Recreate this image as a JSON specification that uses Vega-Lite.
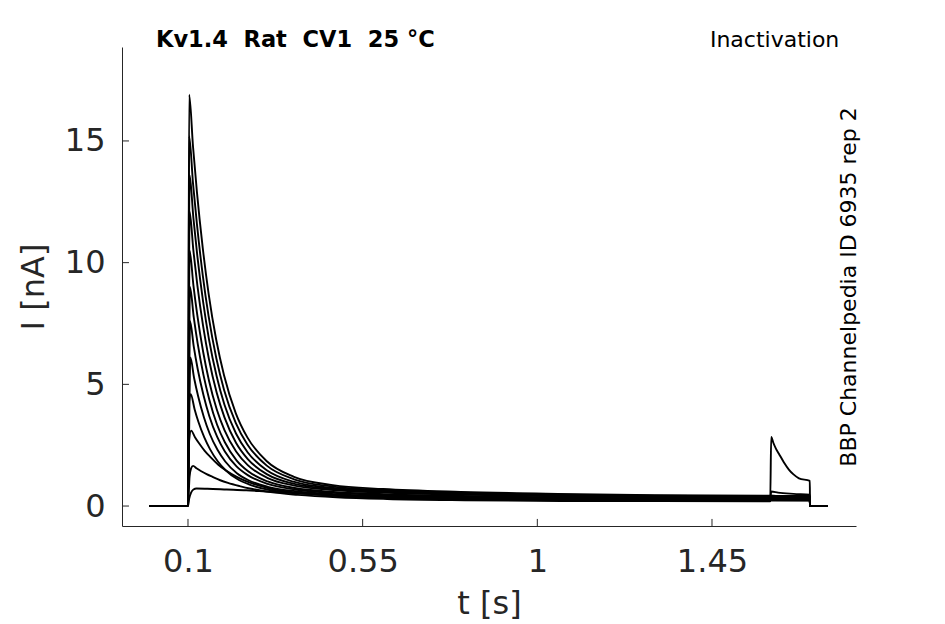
{
  "$schema": "https://vega.github.io/schema/vega-lite/v6.json",
  "autosize": {"type": "none"},
  "width": 734,
  "height": 479,
  "padding": {"left": 122, "top": 47, "right": 89, "bottom": 98},
  "background": "white",
  "config": {
    "view": {"stroke": null},
    "font": "DejaVu Sans",
    "axis": {
      "grid": false,
      "ticks": false,
      "tickSize": 0,
      "labelFont": "DejaVu Sans",
      "titleFont": "DejaVu Sans",
      "labelFontSize": 32,
      "titleFontSize": 32,
      "titleFontWeight": "normal",
      "labelColor": "#262626",
      "titleColor": "#262626",
      "domainColor": "#262626",
      "labelFlush": false,
      "labelOverlap": false
    }
  },
  "layer": [
    {
      "data": {
        "values": [
          {"k": 1, "t": 0, "I": 0}, {"k": 1, "t": 0.1, "I": 0}, {"k": 1, "t": 0.103, "I": 16.9}, {"k": 1, "t": 0.113, "I": 14.76},
          {"k": 1, "t": 0.123, "I": 12.91}, {"k": 1, "t": 0.138, "I": 10.61}, {"k": 1, "t": 0.153, "I": 8.74}, {"k": 1, "t": 0.173, "I": 6.81},
          {"k": 1, "t": 0.193, "I": 5.36}, {"k": 1, "t": 0.223, "I": 3.82}, {"k": 1, "t": 0.253, "I": 2.82}, {"k": 1, "t": 0.303, "I": 1.84},
          {"k": 1, "t": 0.373, "I": 1.2}, {"k": 1, "t": 0.473, "I": 0.86}, {"k": 1, "t": 0.603, "I": 0.7}, {"k": 1, "t": 0.803, "I": 0.58},
          {"k": 1, "t": 1.053, "I": 0.5}, {"k": 1, "t": 1.303, "I": 0.45}, {"k": 1, "t": 1.6, "I": 0.42}, {"k": 1, "t": 1.702, "I": 0.41},
          {"k": 1, "t": 1.7025, "I": 0}, {"k": 1, "t": 1.748, "I": 0},

          {"k": 2, "t": 0, "I": 0}, {"k": 2, "t": 0.1, "I": 0}, {"k": 2, "t": 0.103, "I": 15.2}, {"k": 2, "t": 0.113, "I": 13.25},
          {"k": 2, "t": 0.123, "I": 11.59}, {"k": 2, "t": 0.138, "I": 9.49}, {"k": 2, "t": 0.153, "I": 7.81}, {"k": 2, "t": 0.173, "I": 6.07},
          {"k": 2, "t": 0.193, "I": 4.77}, {"k": 2, "t": 0.223, "I": 3.42}, {"k": 2, "t": 0.253, "I": 2.53}, {"k": 2, "t": 0.303, "I": 1.66},
          {"k": 2, "t": 0.373, "I": 1.1}, {"k": 2, "t": 0.473, "I": 0.8}, {"k": 2, "t": 0.603, "I": 0.66}, {"k": 2, "t": 0.803, "I": 0.55},
          {"k": 2, "t": 1.053, "I": 0.47}, {"k": 2, "t": 1.303, "I": 0.42}, {"k": 2, "t": 1.6, "I": 0.39}, {"k": 2, "t": 1.702, "I": 0.38},
          {"k": 2, "t": 1.7025, "I": 0}, {"k": 2, "t": 1.748, "I": 0},

          {"k": 3, "t": 0, "I": 0}, {"k": 3, "t": 0.1, "I": 0}, {"k": 3, "t": 0.104, "I": 13.6}, {"k": 3, "t": 0.114, "I": 11.82},
          {"k": 3, "t": 0.124, "I": 10.29}, {"k": 3, "t": 0.139, "I": 8.39}, {"k": 3, "t": 0.154, "I": 6.86}, {"k": 3, "t": 0.174, "I": 5.32},
          {"k": 3, "t": 0.194, "I": 4.16}, {"k": 3, "t": 0.224, "I": 2.97}, {"k": 3, "t": 0.254, "I": 2.2}, {"k": 3, "t": 0.304, "I": 1.46},
          {"k": 3, "t": 0.374, "I": 0.99}, {"k": 3, "t": 0.474, "I": 0.74}, {"k": 3, "t": 0.604, "I": 0.62}, {"k": 3, "t": 0.804, "I": 0.51},
          {"k": 3, "t": 1.054, "I": 0.44}, {"k": 3, "t": 1.304, "I": 0.4}, {"k": 3, "t": 1.6, "I": 0.36}, {"k": 3, "t": 1.702, "I": 0.35},
          {"k": 3, "t": 1.7025, "I": 0}, {"k": 3, "t": 1.748, "I": 0},

          {"k": 4, "t": 0, "I": 0}, {"k": 4, "t": 0.1, "I": 0}, {"k": 4, "t": 0.104, "I": 12.1}, {"k": 4, "t": 0.114, "I": 10.48},
          {"k": 4, "t": 0.124, "I": 9.09}, {"k": 4, "t": 0.139, "I": 7.39}, {"k": 4, "t": 0.154, "I": 6.03}, {"k": 4, "t": 0.174, "I": 4.65},
          {"k": 4, "t": 0.194, "I": 3.64}, {"k": 4, "t": 0.224, "I": 2.59}, {"k": 4, "t": 0.254, "I": 1.93}, {"k": 4, "t": 0.304, "I": 1.3},
          {"k": 4, "t": 0.374, "I": 0.91}, {"k": 4, "t": 0.474, "I": 0.7}, {"k": 4, "t": 0.604, "I": 0.58}, {"k": 4, "t": 0.804, "I": 0.49},
          {"k": 4, "t": 1.054, "I": 0.42}, {"k": 4, "t": 1.304, "I": 0.38}, {"k": 4, "t": 1.6, "I": 0.34}, {"k": 4, "t": 1.702, "I": 0.33},
          {"k": 4, "t": 1.7025, "I": 0}, {"k": 4, "t": 1.748, "I": 0},

          {"k": 5, "t": 0, "I": 0}, {"k": 5, "t": 0.1, "I": 0}, {"k": 5, "t": 0.104, "I": 10.5}, {"k": 5, "t": 0.114, "I": 9.07},
          {"k": 5, "t": 0.124, "I": 7.84}, {"k": 5, "t": 0.139, "I": 6.34}, {"k": 5, "t": 0.154, "I": 5.16}, {"k": 5, "t": 0.174, "I": 3.98},
          {"k": 5, "t": 0.194, "I": 3.12}, {"k": 5, "t": 0.224, "I": 2.24}, {"k": 5, "t": 0.254, "I": 1.68}, {"k": 5, "t": 0.304, "I": 1.16},
          {"k": 5, "t": 0.374, "I": 0.84}, {"k": 5, "t": 0.474, "I": 0.66}, {"k": 5, "t": 0.604, "I": 0.55}, {"k": 5, "t": 0.804, "I": 0.47},
          {"k": 5, "t": 1.054, "I": 0.4}, {"k": 5, "t": 1.304, "I": 0.36}, {"k": 5, "t": 1.6, "I": 0.32}, {"k": 5, "t": 1.702, "I": 0.31},
          {"k": 5, "t": 1.7025, "I": 0}, {"k": 5, "t": 1.748, "I": 0},

          {"k": 6, "t": 0, "I": 0}, {"k": 6, "t": 0.1, "I": 0}, {"k": 6, "t": 0.105, "I": 9.0}, {"k": 6, "t": 0.115, "I": 7.74},
          {"k": 6, "t": 0.125, "I": 6.67}, {"k": 6, "t": 0.14, "I": 5.38}, {"k": 6, "t": 0.155, "I": 4.37}, {"k": 6, "t": 0.175, "I": 3.34},
          {"k": 6, "t": 0.195, "I": 2.62}, {"k": 6, "t": 0.225, "I": 1.88}, {"k": 6, "t": 0.255, "I": 1.43}, {"k": 6, "t": 0.305, "I": 1.01},
          {"k": 6, "t": 0.375, "I": 0.74}, {"k": 6, "t": 0.475, "I": 0.58}, {"k": 6, "t": 0.605, "I": 0.49}, {"k": 6, "t": 0.805, "I": 0.41},
          {"k": 6, "t": 1.055, "I": 0.35}, {"k": 6, "t": 1.305, "I": 0.32}, {"k": 6, "t": 1.6, "I": 0.29}, {"k": 6, "t": 1.702, "I": 0.28},
          {"k": 6, "t": 1.7025, "I": 0}, {"k": 6, "t": 1.748, "I": 0},

          {"k": 7, "t": 0, "I": 0}, {"k": 7, "t": 0.1, "I": 0}, {"k": 7, "t": 0.105, "I": 7.6}, {"k": 7, "t": 0.115, "I": 6.54},
          {"k": 7, "t": 0.125, "I": 5.63}, {"k": 7, "t": 0.14, "I": 4.55}, {"k": 7, "t": 0.155, "I": 3.69}, {"k": 7, "t": 0.175, "I": 2.85},
          {"k": 7, "t": 0.195, "I": 2.24}, {"k": 7, "t": 0.225, "I": 1.63}, {"k": 7, "t": 0.255, "I": 1.26}, {"k": 7, "t": 0.305, "I": 0.91},
          {"k": 7, "t": 0.375, "I": 0.68}, {"k": 7, "t": 0.475, "I": 0.54}, {"k": 7, "t": 0.605, "I": 0.46}, {"k": 7, "t": 0.805, "I": 0.38},
          {"k": 7, "t": 1.055, "I": 0.32}, {"k": 7, "t": 1.305, "I": 0.29}, {"k": 7, "t": 1.6, "I": 0.27}, {"k": 7, "t": 1.702, "I": 0.26},
          {"k": 7, "t": 1.7025, "I": 0}, {"k": 7, "t": 1.748, "I": 0},

          {"k": 8, "t": 0, "I": 0}, {"k": 8, "t": 0.1, "I": 0}, {"k": 8, "t": 0.106, "I": 6.1}, {"k": 8, "t": 0.116, "I": 5.24},
          {"k": 8, "t": 0.126, "I": 4.52}, {"k": 8, "t": 0.141, "I": 3.65}, {"k": 8, "t": 0.156, "I": 2.97}, {"k": 8, "t": 0.176, "I": 2.31},
          {"k": 8, "t": 0.196, "I": 1.83}, {"k": 8, "t": 0.226, "I": 1.35}, {"k": 8, "t": 0.256, "I": 1.06}, {"k": 8, "t": 0.306, "I": 0.79},
          {"k": 8, "t": 0.376, "I": 0.61}, {"k": 8, "t": 0.476, "I": 0.49}, {"k": 8, "t": 0.606, "I": 0.42}, {"k": 8, "t": 0.806, "I": 0.34},
          {"k": 8, "t": 1.056, "I": 0.29}, {"k": 8, "t": 1.306, "I": 0.26}, {"k": 8, "t": 1.6, "I": 0.25}, {"k": 8, "t": 1.702, "I": 0.24},
          {"k": 8, "t": 1.7025, "I": 0}, {"k": 8, "t": 1.748, "I": 0},

          {"k": 9, "t": 0, "I": 0}, {"k": 9, "t": 0.1, "I": 0}, {"k": 9, "t": 0.103, "I": 4.3}, {"k": 9, "t": 0.107, "I": 4.6},
          {"k": 9, "t": 0.117, "I": 3.98}, {"k": 9, "t": 0.127, "I": 3.45}, {"k": 9, "t": 0.142, "I": 2.82}, {"k": 9, "t": 0.157, "I": 2.33},
          {"k": 9, "t": 0.177, "I": 1.83}, {"k": 9, "t": 0.197, "I": 1.47}, {"k": 9, "t": 0.227, "I": 1.11}, {"k": 9, "t": 0.257, "I": 0.89},
          {"k": 9, "t": 0.307, "I": 0.67}, {"k": 9, "t": 0.377, "I": 0.54}, {"k": 9, "t": 0.477, "I": 0.44}, {"k": 9, "t": 0.607, "I": 0.38},
          {"k": 9, "t": 0.807, "I": 0.32}, {"k": 9, "t": 1.057, "I": 0.27}, {"k": 9, "t": 1.307, "I": 0.25}, {"k": 9, "t": 1.6, "I": 0.23},
          {"k": 9, "t": 1.702, "I": 0.23}, {"k": 9, "t": 1.7025, "I": 0}, {"k": 9, "t": 1.748, "I": 0},

          {"k": 10, "t": 0, "I": 0}, {"k": 10, "t": 0.1, "I": 0}, {"k": 10, "t": 0.103, "I": 2.7}, {"k": 10, "t": 0.108, "I": 3.1},
          {"k": 10, "t": 0.118, "I": 2.83}, {"k": 10, "t": 0.128, "I": 2.59}, {"k": 10, "t": 0.143, "I": 2.27}, {"k": 10, "t": 0.158, "I": 2.01},
          {"k": 10, "t": 0.178, "I": 1.7}, {"k": 10, "t": 0.198, "I": 1.46}, {"k": 10, "t": 0.228, "I": 1.18}, {"k": 10, "t": 0.258, "I": 0.97},
          {"k": 10, "t": 0.308, "I": 0.73}, {"k": 10, "t": 0.378, "I": 0.55}, {"k": 10, "t": 0.478, "I": 0.42}, {"k": 10, "t": 0.608, "I": 0.34},
          {"k": 10, "t": 0.808, "I": 0.28}, {"k": 10, "t": 1.058, "I": 0.24}, {"k": 10, "t": 1.308, "I": 0.22}, {"k": 10, "t": 1.6, "I": 0.21},
          {"k": 10, "t": 1.6025, "I": 0.42}, {"k": 10, "t": 1.65, "I": 0.38}, {"k": 10, "t": 1.702, "I": 0.36},
          {"k": 10, "t": 1.7025, "I": 0}, {"k": 10, "t": 1.748, "I": 0},

          {"k": 11, "t": 0, "I": 0}, {"k": 11, "t": 0.1, "I": 0}, {"k": 11, "t": 0.104, "I": 1.2}, {"k": 11, "t": 0.108, "I": 1.55},
          {"k": 11, "t": 0.113, "I": 1.65}, {"k": 11, "t": 0.123, "I": 1.54}, {"k": 11, "t": 0.133, "I": 1.44}, {"k": 11, "t": 0.148, "I": 1.31},
          {"k": 11, "t": 0.163, "I": 1.2}, {"k": 11, "t": 0.183, "I": 1.06}, {"k": 11, "t": 0.203, "I": 0.95}, {"k": 11, "t": 0.233, "I": 0.82},
          {"k": 11, "t": 0.263, "I": 0.71}, {"k": 11, "t": 0.313, "I": 0.57}, {"k": 11, "t": 0.383, "I": 0.46}, {"k": 11, "t": 0.483, "I": 0.36},
          {"k": 11, "t": 0.613, "I": 0.29}, {"k": 11, "t": 0.813, "I": 0.24}, {"k": 11, "t": 1.063, "I": 0.21}, {"k": 11, "t": 1.313, "I": 0.2},
          {"k": 11, "t": 1.6, "I": 0.19}, {"k": 11, "t": 1.6025, "I": 0.6}, {"k": 11, "t": 1.62, "I": 0.55}, {"k": 11, "t": 1.66, "I": 0.5},
          {"k": 11, "t": 1.702, "I": 0.47}, {"k": 11, "t": 1.7025, "I": 0}, {"k": 11, "t": 1.748, "I": 0},

          {"k": 12, "t": 0, "I": 0}, {"k": 12, "t": 0.1, "I": 0}, {"k": 12, "t": 0.103, "I": 0.3}, {"k": 12, "t": 0.108, "I": 0.55},
          {"k": 12, "t": 0.114, "I": 0.68}, {"k": 12, "t": 0.122, "I": 0.72}, {"k": 12, "t": 0.15, "I": 0.71}, {"k": 12, "t": 0.2, "I": 0.68},
          {"k": 12, "t": 0.25, "I": 0.65}, {"k": 12, "t": 0.3, "I": 0.6}, {"k": 12, "t": 0.37, "I": 0.53}, {"k": 12, "t": 0.45, "I": 0.46},
          {"k": 12, "t": 0.55, "I": 0.39}, {"k": 12, "t": 0.7, "I": 0.32}, {"k": 12, "t": 0.9, "I": 0.27}, {"k": 12, "t": 1.1, "I": 0.24},
          {"k": 12, "t": 1.3, "I": 0.22}, {"k": 12, "t": 1.6, "I": 0.2}, {"k": 12, "t": 1.6025, "I": 2.84}, {"k": 12, "t": 1.608, "I": 2.6},
          {"k": 12, "t": 1.615, "I": 2.35}, {"k": 12, "t": 1.622, "I": 2.16}, {"k": 12, "t": 1.635, "I": 1.8}, {"k": 12, "t": 1.648, "I": 1.5},
          {"k": 12, "t": 1.66, "I": 1.3}, {"k": 12, "t": 1.674, "I": 1.14}, {"k": 12, "t": 1.702, "I": 1.03}, {"k": 12, "t": 1.7025, "I": 0},
          {"k": 12, "t": 1.748, "I": 0}
        ]
      },
      "mark": {"type": "line", "color": "black", "strokeWidth": 1.9, "interpolate": "monotone"},
      "encoding": {
        "x": {
          "field": "t",
          "type": "quantitative",
          "scale": {"domain": [-0.07, 1.821], "nice": false, "zero": false},
          "axis": {
            "title": "t [s]",
            "values": [0.1, 0.55, 1, 1.45],
            "labelExpr": "datum.value + ''",
            "labelPadding": 20,
            "titlePadding": 11
          }
        },
        "y": {
          "field": "I",
          "type": "quantitative",
          "scale": {"domain": [-0.82, 18.86], "nice": false, "zero": false},
          "axis": {
            "title": "I [nA]",
            "values": [0, 5, 10, 15],
            "labelPadding": 17,
            "titlePadding": 14
          }
        },
        "detail": {"field": "k", "type": "nominal"}
      }
    },
    {
      "data": {"values": [{"tick": 0.1}, {"tick": 0.55}, {"tick": 1}, {"tick": 1.45}]},
      "mark": {"type": "rule", "color": "#262626", "strokeWidth": 1},
      "encoding": {
        "x": {"field": "tick", "type": "quantitative"},
        "y": {"datum": -0.82},
        "y2": {"datum": -0.53}
      }
    },
    {
      "data": {"values": [{"tick": 0}, {"tick": 5}, {"tick": 10}, {"tick": 15}]},
      "mark": {"type": "rule", "color": "#262626", "strokeWidth": 1},
      "encoding": {
        "y": {"field": "tick", "type": "quantitative"},
        "x": {"datum": -0.07},
        "x2": {"datum": -0.052}
      }
    },
    {
      "data": {"values": [{"label": "Kv1.4\u00a0 Rat\u00a0 CV1\u00a0 25 °C"}]},
      "mark": {"type": "text", "font": "DejaVu Sans", "fontSize": 22.5, "fontWeight": "bold", "align": "left", "baseline": "alphabetic", "color": "black"},
      "encoding": {
        "x": {"datum": 0.0175},
        "y": {"datum": 18.88},
        "text": {"field": "label"}
      }
    },
    {
      "data": {"values": [{"label": "Inactivation"}]},
      "mark": {"type": "text", "font": "DejaVu Sans", "fontSize": 22, "align": "right", "baseline": "alphabetic", "color": "black"},
      "encoding": {
        "x": {"datum": 1.778},
        "y": {"datum": 18.88},
        "text": {"field": "label"}
      }
    },
    {
      "data": {"values": [{"label": "BBP Channelpedia ID 6935 rep 2"}]},
      "mark": {"type": "text", "font": "DejaVu Sans", "fontSize": 22, "align": "center", "baseline": "alphabetic", "angle": 270, "color": "black"},
      "encoding": {
        "x": {"datum": 1.821},
        "y": {"datum": 9.0},
        "text": {"field": "label"}
      }
    }
  ]
}
